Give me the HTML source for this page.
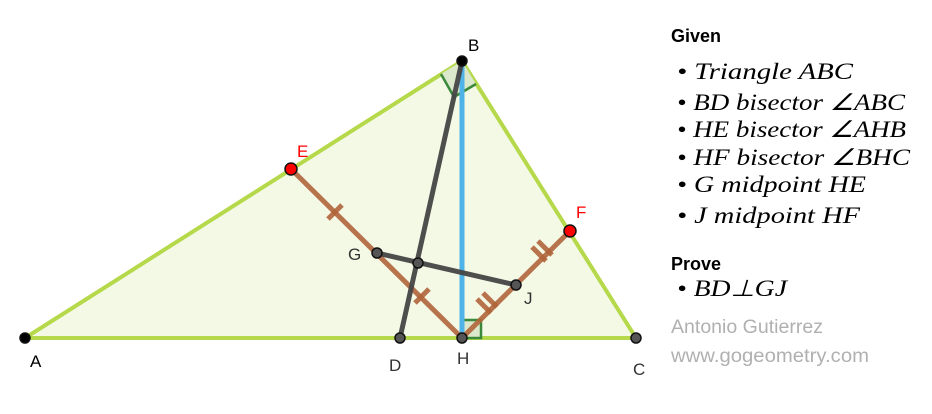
<!DOCTYPE html>
<html><head><meta charset="utf-8"><style>
body{margin:0;background:#fff;}
svg{display:block;}
.m{font-family:"Liberation Serif",serif;font-style:italic;font-size:23px;}
.s{font-family:"Liberation Sans",sans-serif;}
</style></head><body>
<svg width="932" height="414" viewBox="0 0 932 414" xmlns="http://www.w3.org/2000/svg">
<polygon points="25,338 462,61 636,338" fill="#f4f9e6" stroke="#b5d94a" stroke-width="4" stroke-linejoin="round"/>
<polygon points="462,61 441,74 454,97 476,84" fill="#dbe8cc" stroke="none"/>
<polyline points="441,74 454,97 476,84" fill="none" stroke="#3b8a3b" stroke-width="2.5"/>
<rect x="462" y="320" width="19" height="18" fill="#dbe8cc" stroke="#3b8a3b" stroke-width="2.5"/>
<line x1="462" y1="61" x2="462" y2="338" stroke="#4fb3e8" stroke-width="5"/>
<g stroke="#b0643a" stroke-width="5" stroke-opacity="0.9" stroke-linecap="butt">
<line x1="462" y1="338" x2="291" y2="169"/>
<line x1="462" y1="338" x2="570" y2="231"/>
<line x1="328" y1="219" x2="342" y2="205"/>
<line x1="415" y1="303" x2="429" y2="289"/>
<line x1="477" y1="299" x2="491" y2="313"/>
<line x1="483" y1="293" x2="497" y2="307"/>
<line x1="532" y1="247" x2="546" y2="261"/>
<line x1="538" y1="241" x2="552" y2="255"/>
</g>
<g stroke="#444" stroke-width="5" stroke-opacity="0.95">
<line x1="462" y1="61" x2="400" y2="338"/>
<line x1="377" y1="253" x2="516" y2="285"/>
</g>
<g stroke="#111" stroke-width="1.5">
<circle cx="25" cy="338" r="5" fill="#000"/>
<circle cx="462" cy="61" r="5" fill="#000"/>
<circle cx="636" cy="338" r="5" fill="#555"/>
<circle cx="400" cy="338" r="5" fill="#555"/>
<circle cx="462" cy="338" r="5" fill="#555"/>
<circle cx="377" cy="253" r="5" fill="#555"/>
<circle cx="516" cy="285" r="5" fill="#555"/>
<circle cx="418" cy="263" r="5" fill="#555"/>
<circle cx="291" cy="169" r="6" fill="#f00"/>
<circle cx="570" cy="231" r="6" fill="#f00"/>
</g>
<g class="s" font-size="17">
<text x="30" y="367" fill="#000">A</text>
<text x="468" y="51" fill="#000">B</text>
<text x="633" y="375" fill="#333">C</text>
<text x="389" y="371" fill="#333">D</text>
<text x="457" y="364" fill="#333">H</text>
<text x="348" y="260" fill="#333">G</text>
<text x="524" y="304" fill="#333">J</text>
<text x="297" y="157" fill="#f00">E</text>
<text x="576" y="218" fill="#f00">F</text>
</g>
<text class="s" x="671" y="42" font-size="18" font-weight="bold">Given</text>
<g class="m">
<text x="677" y="79" textLength="176" lengthAdjust="spacingAndGlyphs">• Triangle ABC</text>
<text x="677" y="110" textLength="228" lengthAdjust="spacingAndGlyphs">• BD bisector ∠ABC</text>
<text x="677" y="137" textLength="229" lengthAdjust="spacingAndGlyphs">• HE bisector ∠AHB</text>
<text x="677" y="165" textLength="233" lengthAdjust="spacingAndGlyphs">• HF bisector ∠BHC</text>
<text x="677" y="192" textLength="189" lengthAdjust="spacingAndGlyphs">• G midpoint HE</text>
<text x="677" y="223" textLength="183" lengthAdjust="spacingAndGlyphs">• J midpoint HF</text>
<text x="677" y="296" textLength="110" lengthAdjust="spacingAndGlyphs">• BD⊥GJ</text>
</g>
<text class="s" x="671" y="270" font-size="18" font-weight="bold">Prove</text>
<text class="s" x="671" y="333" font-size="19.5" fill="#b0b0b0" textLength="152" lengthAdjust="spacingAndGlyphs">Antonio Gutierrez</text>
<text class="s" x="671" y="362" font-size="19.5" fill="#b0b0b0" textLength="198" lengthAdjust="spacingAndGlyphs">www.gogeometry.com</text>
</svg>
</body></html>
